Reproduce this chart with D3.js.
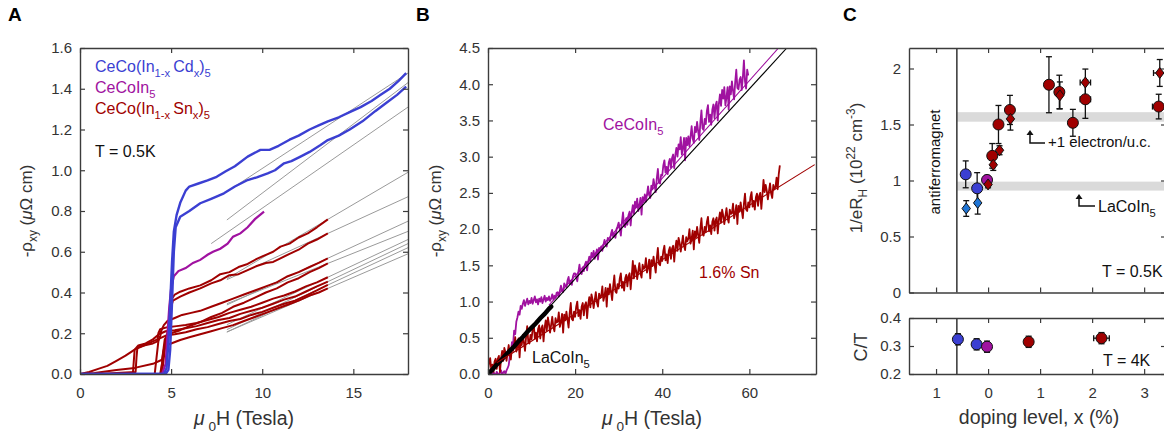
<!DOCTYPE html>
<html>
<head>
<meta charset="utf-8">
<script src="https://cdn.jsdelivr.net/npm/d3@7"></script>
<style>
  body { margin: 0; background: #fff; }
  svg { font-family: "Liberation Sans", Arial, sans-serif; }
  .frame path.domain { stroke: #3c3c3c; stroke-width: 1.4px; }
  .frame .tick line { stroke: #3c3c3c; stroke-width: 1.2px; }
  .frame .tick text { font-size: 15px; fill: #333; }
</style>
</head>
<body>
<div id="chart"></div>
<script>
// ---------- panel A : -rho_xy vs field, [field T, uOhm cm]
var cdUpper = [[0,0],[4.6,0],[4.75,0.03],[4.85,0.15],[4.95,0.35],[5.05,0.55],[5.15,0.7],[5.3,0.78],[5.5,0.84],[5.8,0.9],
  [6.0,0.92],[6.5,0.935],[7.0,0.95],[7.5,0.968],[8.0,0.995],[8.5,1.02],[9.2,1.067],[9.9,1.1],[10.4,1.1],[10.9,1.12],
  [11.5,1.15],[12.0,1.17],[12.6,1.2],[13.1,1.22],[13.6,1.24],[14.2,1.26],[14.8,1.285],[15.4,1.31],[16.0,1.34],[16.5,1.37],
  [17.0,1.4],[17.5,1.44],[17.9,1.477]];
var cdLower = [[0,0],[4.7,0],[4.85,0.02],[4.95,0.12],[5.05,0.35],[5.15,0.6],[5.25,0.72],[5.5,0.772],[6.0,0.8],[6.6,0.838],
  [7.2,0.86],[7.9,0.887],[8.5,0.92],[9.2,0.952],[9.7,0.965],[10.3,0.985],[10.7,1.0],[11.2,1.034],[11.6,1.045],[12.1,1.067],
  [12.6,1.09],[13.2,1.124],[13.6,1.148],[14.2,1.17],[14.8,1.2],[15.5,1.24],[16.2,1.29],[16.8,1.33],[17.4,1.37],[17.9,1.41]];
var pureA = [[0,0],[4.5,0],[4.7,0.05],[4.8,0.2],[4.9,0.33],[5.0,0.42],[5.15,0.48],[5.4,0.505],[5.8,0.52],[6.2,0.545],
  [6.6,0.56],[7.0,0.585],[7.3,0.6],[7.7,0.615],[8.1,0.64],[8.4,0.674],[8.8,0.69],[9.2,0.72],[9.6,0.76],[10.1,0.797]];
var snCurves = [
  [[0,0],[4.4,0],[4.6,0.1],[4.75,0.18],[4.85,0.22],[4.95,0.3],[5.05,0.37],[5.2,0.39],[5.5,0.404],[6.0,0.42],[6.6,0.435],
   [7.2,0.46],[7.7,0.49],[8.2,0.5],[8.7,0.525],[9.2,0.54],[9.7,0.565],[10.2,0.585],[10.6,0.6],[11.0,0.625],[11.5,0.64],
   [12.0,0.67],[12.5,0.69],[13.0,0.72],[13.6,0.759]],
  [[0,0],[4.5,0],[4.65,0.12],[4.8,0.2],[4.9,0.26],[5.0,0.33],[5.1,0.36],[5.3,0.37],[5.5,0.38],[6.0,0.4],[6.6,0.42],
   [7.2,0.445],[7.7,0.46],[8.2,0.485],[8.7,0.49],[9.2,0.51],[9.7,0.53],[10.2,0.545],[10.6,0.55],[11.0,0.568],[11.5,0.59],
   [12.0,0.61],[12.5,0.64],[13.0,0.66],[13.6,0.69]],
  [[0,0],[0.5,0.01],[1,0.025],[1.5,0.04],[2,0.065],[2.5,0.09],[3,0.12],[3.5,0.14],[4,0.16],[4.5,0.18],[5,0.2],[5.5,0.215],
   [6,0.235],[6.6,0.255],[7.2,0.28],[7.8,0.3],[8.4,0.33],[9,0.35],[9.6,0.375],[10.2,0.4],[10.8,0.42],[11.4,0.45],[12,0.47],
   [12.6,0.5],[13.1,0.52],[13.6,0.543]],
  [[0,0],[2.9,0],[2.95,0.06],[3.0,0.12],[3.2,0.14],[3.6,0.15],[4.0,0.17],[4.4,0.2],[4.6,0.24],[4.8,0.26],[5.2,0.275],
   [5.6,0.29],[6.1,0.3],[6.6,0.31],[7.2,0.33],[7.8,0.35],[8.4,0.37],[9,0.39],[9.6,0.41],[10.2,0.43],[10.8,0.45],[11.4,0.48],
   [12,0.5],[12.6,0.525],[13.1,0.545],[13.6,0.568]],
  [[0,0],[1,0],[2,0.005],[3.05,0.01],[3.1,0.08],[3.15,0.13],[3.5,0.14],[4.0,0.15],[4.25,0.16],[4.3,0.2],[4.4,0.22],
   [4.8,0.23],[5.3,0.235],[5.8,0.24],[6.4,0.25],[7,0.265],[7.6,0.28],[8.2,0.3],[8.8,0.315],[9.4,0.33],[10,0.35],[10.6,0.37],
   [11.2,0.385],[11.8,0.405],[12.4,0.43],[13,0.45],[13.6,0.475]],
  [[0,0],[4.1,0],[4.2,0.08],[4.3,0.16],[4.45,0.2],[4.7,0.21],[5.2,0.215],[5.8,0.225],[6.4,0.235],[7,0.25],[7.6,0.265],
   [8.2,0.275],[8.8,0.295],[9.4,0.31],[10,0.325],[10.6,0.345],[11.2,0.365],[11.8,0.38],[12.4,0.405],[13,0.43],[13.6,0.453]],
  [[0,0],[4.45,0],[4.55,0.1],[4.65,0.17],[4.8,0.19],[5.2,0.195],[5.8,0.205],[6.4,0.22],[7,0.23],[7.6,0.245],[8.2,0.26],
   [8.8,0.27],[9.4,0.29],[10,0.305],[10.6,0.325],[11.2,0.345],[11.8,0.36],[12.4,0.385],[13,0.41],[13.6,0.437]],
  [[0,0],[0.8,0.005],[2,0.02],[3,0.03],[4,0.05],[4.5,0.07],[4.6,0.12],[4.7,0.14],[5,0.15],[5.5,0.167],[6,0.18],[6.6,0.195],
   [7.2,0.21],[7.8,0.225],[8.4,0.24],[9,0.26],[9.6,0.28],[10.2,0.3],[10.8,0.32],[11.4,0.34],[12,0.36],[12.6,0.385],
   [13.1,0.4],[13.6,0.42]]
];
// straight-line fits, [x0, y0, x1, y1]
var fitsA = [[8.06,0.895,18,1.477],[8.06,0.756,18,1.43],[7.2,0.64,18,1.31],
  [8.06,0.468,18,0.99],[8.06,0.463,18,0.87],[8.06,0.339,18,0.75],[8.06,0.345,18,0.70],
  [8.06,0.242,18,0.66],[8.06,0.218,18,0.64],[8.06,0.206,18,0.62],[8.06,0.206,18,0.59]];

// ---------- panel B : pulsed field, 0.25 T grid (one row = 2 T)
var stepB = 0.25;
var pureB = [
  0.02,-0.01,0.04,0.01,-0.03,0.03,0.0,-0.02,
  0.03,0.01,-0.03,0.02,0.05,-0.01,0.02,0.04,
  0.0,0.05,0.08,0.12,0.24,0.3,0.44,0.4,
  0.6,0.55,0.72,0.78,0.86,0.82,0.94,0.9,
  0.97,1.02,0.94,0.99,1.04,0.96,1.01,0.98,
  1.05,0.97,1.02,1.07,0.99,1.03,0.96,1.04,
  1.0,1.06,0.98,1.03,1.08,1.0,1.05,1.02,
  1.07,1.01,1.04,1.1,1.03,1.08,1.05,1.12,
  1.13,1.07,1.15,1.22,1.15,1.13,1.25,1.22,
  1.2,1.29,1.34,1.24,1.29,1.23,1.35,1.39,
  1.39,1.34,1.28,1.41,1.51,1.39,1.38,1.47,
  1.42,1.51,1.55,1.43,1.55,1.62,1.55,1.67,
  1.61,1.7,1.59,1.65,1.72,1.58,1.74,1.7,
  1.76,1.7,1.78,1.85,1.78,1.76,1.88,1.85,
  1.85,1.94,1.99,1.89,1.94,1.88,2.0,2.04,
  2.09,2.0,1.91,2.1,2.23,2.04,2.03,2.15,
  2.06,2.19,2.24,2.05,2.23,2.33,2.21,2.38,
  2.3,2.42,2.25,2.32,2.43,2.2,2.44,2.37,
  2.48,2.38,2.48,2.59,2.47,2.43,2.6,2.55,
  2.69,2.6,2.51,2.7,2.83,2.64,2.63,2.75,
  2.74,2.88,2.95,2.78,2.86,2.76,2.92,2.97,
  2.85,2.98,3.03,2.84,3.02,3.12,3.0,3.17,
  3.1,3.27,3.03,3.12,3.26,2.95,3.26,3.16,
  3.28,3.14,3.28,3.42,3.25,3.19,3.41,3.34,
  3.48,3.35,3.23,3.47,3.64,3.39,3.37,3.52,
  3.45,3.63,3.71,3.48,3.58,3.44,3.65,3.72,
  3.53,3.71,3.76,3.5,3.73,3.86,3.7,3.92,
  3.8,3.96,3.71,3.82,3.96,3.65,3.97,3.86,
  4.04,3.91,3.79,4.03,4.2,3.95,3.93,4.06,
  4.1,3.92,4.09,4.33,4.04,3.94,4.2,4.12];
var snB = [
  0.05,0.16,0.22,0.06,0.13,0.03,0.17,0.21,
  0.07,0.21,0.25,0.03,0.22,0.32,0.18,0.36,
  0.3,0.18,0.29,0.4,0.26,0.2,0.38,0.32,
  0.38,0.51,0.31,0.38,0.49,0.23,0.48,0.4,
  0.54,0.43,0.32,0.52,0.66,0.44,0.42,0.54,
  0.48,0.62,0.69,0.49,0.57,0.45,0.62,0.67,
  0.49,0.63,0.67,0.45,0.64,0.74,0.6,0.78,
  0.69,0.57,0.68,0.79,0.65,0.59,0.77,0.71,
  0.72,0.85,0.65,0.72,0.83,0.57,0.82,0.74,
  0.86,0.75,0.64,0.84,0.98,0.76,0.74,0.86,
  0.79,0.93,1.0,0.8,0.88,0.76,0.93,0.98,
  0.81,0.95,0.99,0.77,0.96,1.06,0.92,1.1,
  1.03,0.91,1.02,1.13,0.99,0.93,1.11,1.05,
  1.08,1.21,1.01,1.08,1.19,0.93,1.18,1.1,
  1.24,1.13,1.02,1.22,1.36,1.14,1.12,1.24,
  1.18,1.32,1.39,1.19,1.27,1.15,1.32,1.37,
  1.21,1.35,1.39,1.17,1.36,1.56,1.32,1.5,
  1.43,1.31,1.42,1.53,1.39,1.33,1.51,1.45,
  1.47,1.6,1.4,1.47,1.58,1.32,1.57,1.49,
  1.62,1.51,1.4,1.6,1.74,1.52,1.5,1.62,
  1.56,1.7,1.77,1.57,1.65,1.53,1.7,1.75,
  1.59,1.73,1.77,1.55,1.74,1.84,1.7,1.88,
  1.81,1.69,1.8,1.91,1.77,1.71,1.89,1.83,
  1.87,2.0,1.8,1.87,1.98,1.72,1.97,1.89,
  2.03,1.92,1.81,2.01,2.15,1.93,1.91,2.03,
  1.96,2.1,2.17,1.97,2.05,1.93,2.1,2.15,
  1.98,2.12,2.16,1.94,2.13,2.23,2.09,2.27,
  2.19,2.07,2.18,2.29,2.15,2.09,2.27,2.21,
  2.22,2.35,2.15,2.22,2.33,2.07,2.32,2.24,
  2.37,2.26,2.15,2.35,2.49,2.27,2.25,2.37,
  2.3,2.44,2.51,2.31,2.39,2.27,2.44,2.49,
  2.32,2.46,2.5,2.28,2.47,2.68,2.51,2.61,
  2.53,2.41,2.52,2.63,2.49,2.43,2.61,2.55,
  2.58,2.71,2.55,2.76,2.88];
var laB = [[0,0],[1,0.06],[2,0.13],[3,0.19],[4,0.26],[5,0.32],[6,0.38],[7,0.45],[8,0.51],[9,0.58],
  [10,0.64],[11,0.7],[12,0.77],[13,0.83],[14,0.9],[14.5,0.93]];
var fitsB = [[0,0,68.6,4.5,"#000"],[14,0.95,66.7,4.5,"#9b0a9b"],[2,0.155,75,2.89,"#a00000"]];

// ---------- panel C : carrier density and C/T vs doping (Cd negative)
var hallDoping = [-0.43,-0.21,-0.42,-0.2,-0.02,0.0,0.08,0.1,0.22,0.2,0.42,0.43,1.17,1.37,1.38,1.63,1.87,1.87,3.3,3.28];
var hallN = [1.055,0.93,0.75,0.8,1.005,0.965,1.22,1.14,1.27,1.5,1.63,1.55,1.855,1.79,1.76,1.515,1.875,1.725,1.96,1.66];
var hallErr = [0.12,0.14,0.07,0.1,0.04,0.03,0.11,0.05,0.04,0.17,0.13,0.1,0.25,0.15,0.12,0.12,0.12,0.17,0.12,0.11];
var hallXErr = [0,0,0,0,0,0,0,0,0,0,0,0,0,0,0,0,0.1,0.1,0.12,0.12];
var hallKind = ["cd","cd","cdD","cdD","pure","snD","sn","snD","snD","sn","sn","snD","sn","sn","snD","sn","snD","sn","snD","sn"];
var ctDoping = [-0.58,-0.22,-0.02,0.78,2.18];
var ctVal = [0.324,0.306,0.2975,0.315,0.328];
var ctErr = [0.02,0.02,0.02,0.02,0.02];
var ctXErr = [0,0,0,0.07,0.15];
var ctKind = ["cd","cd","pure","sn","sn"];
var bands = [[1.525,1.61],[0.91,0.99]];

var colors = { cd: "#3b3fd2", cdD: "#1f74d4", pure: "#a012a0", sn: "#a00000", snD: "#a00000" };

var W = 1164, H = 436;
var svg = d3.select("#chart").append("svg").attr("width", W).attr("height", H);
svg.append("rect").attr("width", W).attr("height", H).attr("fill", "#fff");

// text with sub/superscripts: parts = [[text, "sub"|"sup"|null, italic]]
function rich(sel, parts, size) {
  var shift = 0;
  parts.forEach(function (p) {
    var t = sel.append("tspan").text(p[0]);
    var target = p[1] === "sub" ? 0.32 * size : (p[1] === "sup" ? -0.42 * size : 0);
    t.attr("dy", target - shift);
    shift = target;
    if (p[1]) t.attr("font-size", size * 0.7);
    if (p[2]) t.attr("font-style", "italic");
  });
  return sel;
}
function label(x, y, parts, size, color, rot, anchor) {
  var t = svg.append("text").attr("font-size", size).attr("fill", color || "#222")
    .attr("text-anchor", anchor || "start")
    .attr("transform", "translate(" + x + "," + y + ")" + (rot ? " rotate(" + rot + ")" : ""));
  return rich(t, parts, size);
}

// box with inward ticks on all four sides
function frame(x, y, xt, yt, xf, yf) {
  var x0 = x.range()[0], x1 = x.range()[1], y0 = y.range()[0], y1 = y.range()[1];
  svg.append("g").attr("class", "frame").attr("transform", "translate(0," + y0 + ")")
    .call(d3.axisBottom(x).tickValues(xt).tickSizeInner(-5).tickSizeOuter(0).tickPadding(13).tickFormat(xf || ""));
  svg.append("g").attr("class", "frame").attr("transform", "translate(0," + y1 + ")")
    .call(d3.axisTop(x).tickValues(xt).tickSizeInner(-5).tickSizeOuter(0).tickFormat(""));
  svg.append("g").attr("class", "frame").attr("transform", "translate(" + x0 + ",0)")
    .call(d3.axisLeft(y).tickValues(yt).tickSizeInner(-5).tickSizeOuter(0).tickPadding(8).tickFormat(yf || ""));
  svg.append("g").attr("class", "frame").attr("transform", "translate(" + x1 + ",0)")
    .call(d3.axisRight(y).tickValues(yt).tickSizeInner(-5).tickSizeOuter(0).tickFormat(""));
}
function clip(id, x, y) {
  svg.append("clipPath").attr("id", id).append("rect")
    .attr("x", x.range()[0]).attr("y", y.range()[1])
    .attr("width", x.range()[1] - x.range()[0]).attr("height", y.range()[0] - y.range()[1]);
  return svg.append("g").attr("clip-path", "url(#" + id + ")");
}

// ================= A =================
var xA = d3.scaleLinear().domain([0, 18]).range([80, 408]);
var yA = d3.scaleLinear().domain([0, 1.6]).range([374, 48]);
var lineA = d3.line().x(function (d) { return xA(d[0]); }).y(function (d) { return yA(d[1]); });
var gA = clip("clipA", xA, yA);
gA.selectAll(".fitA").data(fitsA).enter().append("line")
  .attr("x1", function (d) { return xA(d[0]); }).attr("y1", function (d) { return yA(d[1]); })
  .attr("x2", function (d) { return xA(d[2]); }).attr("y2", function (d) { return yA(d[3]); })
  .attr("stroke", "#9a9a9a").attr("stroke-width", 1);
gA.selectAll(".sn").data(snCurves).enter().append("path")
  .attr("d", lineA).attr("fill", "none").attr("stroke", colors.sn).attr("stroke-width", 2)
  .attr("stroke-linejoin", "round");
gA.append("path").attr("d", lineA(pureA)).attr("fill", "none").attr("stroke", colors.pure).attr("stroke-width", 2.2);
[cdUpper, cdLower].forEach(function (c) {
  gA.append("path").attr("d", lineA(c)).attr("fill", "none").attr("stroke", colors.cd).attr("stroke-width", 2.4)
    .attr("stroke-linejoin", "round");
});
frame(xA, yA, [0, 5, 10, 15], d3.range(0, 1.61, 0.2), d3.format("d"), d3.format(".1f"));

label(95, 72, [["CeCo(In"], ["1-x ", "sub"], ["Cd"], ["x", "sub"], [")"], ["5", "sub"]], 16, colors.cd);
label(95, 93, [["CeCoIn"], ["5", "sub"]], 16, colors.pure);
label(95, 114, [["CeCo(In"], ["1-x ", "sub"], ["Sn"], ["x", "sub"], [")"], ["5", "sub"]], 16, colors.sn);
label(95, 157, [["T = 0.5K"]], 16, "#111");
label(244, 425, [["μ", null, true], [" 0", "sub"], ["H (Tesla)"]], 19.5, "#333", 0, "middle");
label(32, 211, [["-ρ"], ["xy", "sub"], [" ("], ["μ", null, true], ["Ω cm)"]], 17, "#333", -90, "middle");
svg.append("text").attr("x", 8).attr("y", 21).attr("font-size", 19).attr("font-weight", "bold").text("A");

// ================= B =================
var xB = d3.scaleLinear().domain([0, 75.3]).range([488, 816]);
var yB = d3.scaleLinear().domain([0, 4.5]).range([374, 48]);
var lineB = d3.line().x(function (d, i) { return xB(i * stepB); }).y(function (d) { return yB(d); });
var gB = clip("clipB", xB, yB);
gB.append("path").attr("d", lineB(pureB)).attr("fill", "none").attr("stroke", colors.pure).attr("stroke-width", 1.8)
  .attr("stroke-linejoin", "round");
gB.append("path").attr("d", lineB(snB)).attr("fill", "none").attr("stroke", colors.sn).attr("stroke-width", 1.8)
  .attr("stroke-linejoin", "round");
gB.append("path").attr("d", lineA.x(function (d) { return xB(d[0]); }).y(function (d) { return yB(d[1]); })(laB))
  .attr("fill", "none").attr("stroke", "#000").attr("stroke-width", 4.5).attr("stroke-linecap", "round");
gB.selectAll(".fitB").data(fitsB).enter().append("line")
  .attr("x1", function (d) { return xB(d[0]); }).attr("y1", function (d) { return yB(d[1]); })
  .attr("x2", function (d) { return xB(d[2]); }).attr("y2", function (d) { return yB(d[3]); })
  .attr("stroke", function (d) { return d[4]; }).attr("stroke-width", 1.1);
frame(xB, yB, [0, 20, 40, 60], d3.range(0, 4.51, 0.5), d3.format("d"), d3.format(".1f"));

label(603, 130, [["CeCoIn"], ["5", "sub"]], 16, colors.pure);
label(699, 278, [["1.6% Sn"]], 16, colors.sn);
label(532, 363, [["LaCoIn"], ["5", "sub"]], 16, "#111");
label(652, 425, [["μ", null, true], [" 0", "sub"], ["H (Tesla)"]], 19.5, "#333", 0, "middle");
label(441, 211, [["-ρ"], ["xy", "sub"], [" ("], ["μ", null, true], ["Ω cm)"]], 17, "#333", -90, "middle");
svg.append("text").attr("x", 416).attr("y", 21).attr("font-size", 19).attr("font-weight", "bold").text("B");

// ================= C =================
var xC = d3.scaleLinear().domain([-1.52, 3.42]).range([909, 1166]);
var yC = d3.scaleLinear().domain([0, 2.183]).range([292.5, 48]);
var yCT = d3.scaleLinear().domain([0.2, 0.4]).range([374, 318]);

svg.selectAll(".band").data(bands).enter().append("rect")
  .attr("x", xC(-0.6)).attr("width", xC.range()[1] - xC(-0.6))
  .attr("y", function (d) { return yC(d[1]); })
  .attr("height", function (d) { return yC(d[0]) - yC(d[1]); })
  .attr("fill", "#dadada");
[[yC.range()[0], yC.range()[1]], [yCT.range()[0], yCT.range()[1]]].forEach(function (r) {
  svg.append("line").attr("x1", xC(-0.6)).attr("x2", xC(-0.6)).attr("y1", r[0]).attr("y2", r[1])
    .attr("stroke", "#333").attr("stroke-width", 1.5);
});

function diamond(cx, cy) {
  return "M" + cx + "," + (cy - 5.5) + "L" + (cx + 4.2) + "," + cy + "L" + cx + "," + (cy + 5.5) + "L" + (cx - 4.2) + "," + cy + "Z";
}
function points(xs, ys, es, xes, kinds, ys_) {
  var g = svg.append("g");
  xs.forEach(function (xv, i) {
    var cx = xC(xv), cy = ys_(ys[i]);
    var eb = g.append("g").attr("stroke", "#111").attr("stroke-width", 1.3);
    eb.append("line").attr("x1", cx).attr("x2", cx).attr("y1", ys_(ys[i] - es[i])).attr("y2", ys_(ys[i] + es[i]));
    [ys[i] - es[i], ys[i] + es[i]].forEach(function (v) {
      eb.append("line").attr("x1", cx - 3).attr("x2", cx + 3).attr("y1", ys_(v)).attr("y2", ys_(v));
    });
    if (xes[i] > 0) {
      eb.append("line").attr("x1", xC(xv - xes[i])).attr("x2", xC(xv + xes[i])).attr("y1", cy).attr("y2", cy);
      [xv - xes[i], xv + xes[i]].forEach(function (v) {
        eb.append("line").attr("x1", xC(v)).attr("x2", xC(v)).attr("y1", cy - 3).attr("y2", cy + 3);
      });
    }
  });
  xs.forEach(function (xv, i) {
    var cx = xC(xv), cy = ys_(ys[i]);
    var k = kinds[i];
    if (k === "cdD" || k === "snD") {
      g.append("path").attr("d", diamond(cx, cy)).attr("fill", colors[k]).attr("stroke", "#111").attr("stroke-width", 1);
    } else {
      g.append("circle").attr("cx", cx).attr("cy", cy).attr("r", 5.5).attr("fill", colors[k])
        .attr("stroke", "#111").attr("stroke-width", 1);
    }
  });
}
points(hallDoping, hallN, hallErr, hallXErr, hallKind, yC);
points(ctDoping, ctVal, ctErr, ctXErr, ctKind, yCT);

var absFmt = function (d) { return Math.abs(d); };
frame(xC, yC, [-1, 0, 1, 2, 3], [0, 0.5, 1, 1.5, 2], "", function (d) { return d; });
frame(xC, yCT, [-1, 0, 1, 2, 3], [0.2, 0.3, 0.4], absFmt, d3.format(".1f"));

// annotations
label(940, 162, [["antiferromagnet"]], 15, "#111", -90, "middle");
function elbow(x, yTop, yBot, xEnd) {
  svg.append("path").attr("d", "M" + x + "," + (yTop + 4) + "L" + x + "," + yBot + "L" + xEnd + "," + yBot)
    .attr("fill", "none").attr("stroke", "#111").attr("stroke-width", 1.5);
  svg.append("path").attr("d", "M" + (x - 3.5) + "," + (yTop + 5) + "L" + x + "," + yTop + "L" + (x + 3.5) + "," + (yTop + 5) + "Z")
    .attr("fill", "#111");
}
elbow(1030, 130, 143, 1045);
label(1048, 147, [["+1 electron/u.c."]], 15, "#111");
elbow(1079, 194, 206, 1095);
label(1098, 212, [["LaCoIn"], ["5", "sub"]], 16, "#111");
label(1102, 277, [["T = 0.5K"]], 16, "#111");
label(1103, 366, [["T = 4K"]], 16, "#111");
label(1039, 424, [["doping level, x (%)"]], 19.5, "#333", 0, "middle");
label(862, 168, [["1/eR"], ["H", "sub"], [" (10"], ["22", "sup"], [" cm"], ["-3", "sup"], [")"]], 17, "#333", -90, "middle");
label(867, 347, [["C/T"]], 18, "#333", -90, "middle");
svg.append("text").attr("x", 843).attr("y", 21).attr("font-size", 19).attr("font-weight", "bold").text("C");
</script>
</body>
</html>
